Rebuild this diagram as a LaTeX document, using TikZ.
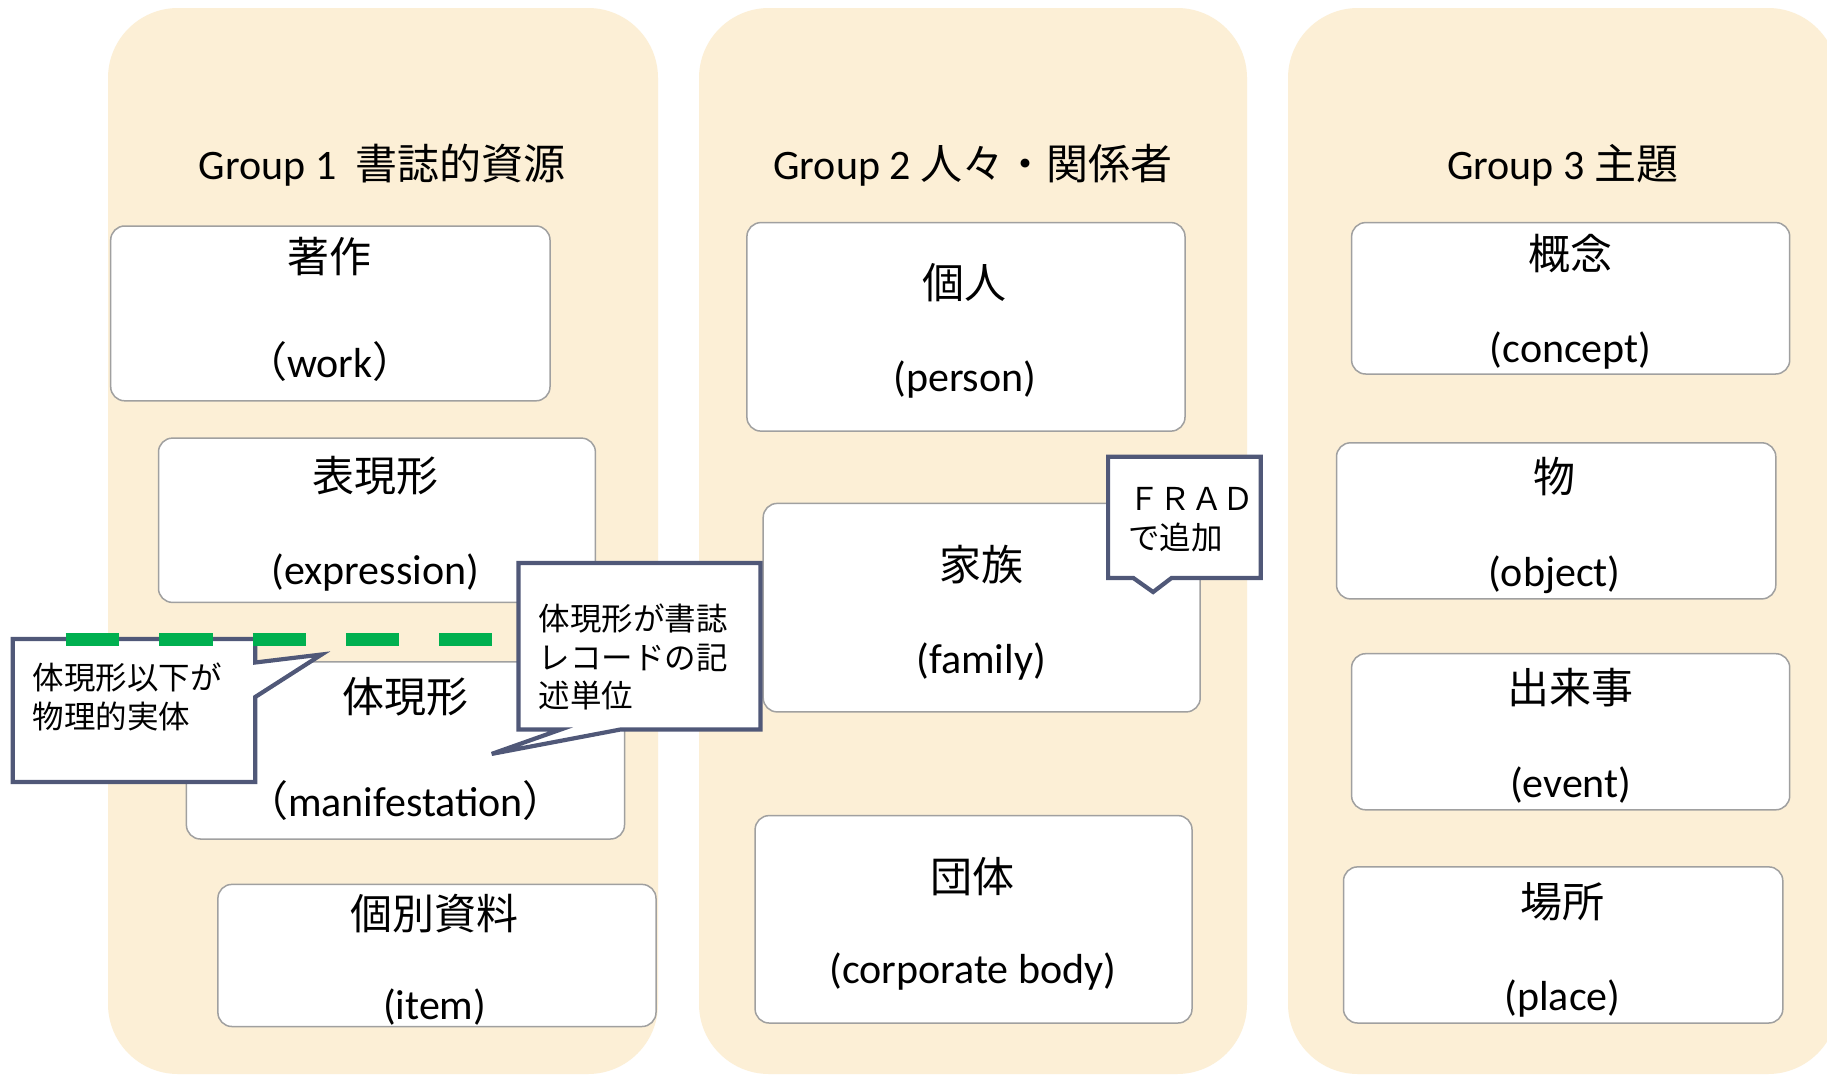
\documentclass[tikz,border=0pt]{standalone}
\usepackage{fontspec}
\setmainfont{Carlito}
\newfontfamily\cjkfont{Noto Sans CJK JP}
\definecolor{panelfill}{RGB}{252,239,214}
\definecolor{boxline}{RGB}{160,160,160}
\definecolor{callline}{RGB}{80,88,120}
\definecolor{dashgreen}{RGB}{0,176,80}
\begin{document}
\begin{tikzpicture}[x=1pt,y=-1pt,
  panelbox/.style={fill=panelfill, draw=none, rounded corners=70pt},
  entity/.style={draw=boxline, fill=white, line width=1.5pt, rounded corners=14pt, inner sep=0pt, rectangle},
  jalabel/.style={font=\cjkfont\fontsize{42}{50}\selectfont, inner sep=0pt, anchor=base},
  enlabel/.style={font=\fontsize{42}{50}\selectfont, inner sep=0pt, anchor=base},
  titlelabel/.style={font=\fontsize{42}{50}\selectfont, inner sep=0pt, anchor=base},
  callout/.style={draw=callline, fill=white, line width=4.2pt, line join=miter},
  calltext/.style={font=\cjkfont\fontsize{31.5}{38}\selectfont, inner sep=0pt, anchor=base west},
  greendash/.style={draw=dashgreen, line width=13pt, dash pattern=on 53.4pt off 40pt}
]
\useasboundingbox (0,0) rectangle (1827,1076);
\clip (0,0) rectangle (1827,1076);
\fill[white] (0,0) rectangle (1827,1076);

% panels
\path[panelbox] (108,8) rectangle (658,1074);
\path[panelbox] (699,8) rectangle (1247,1074);
\path[panelbox] (1288,8) rectangle (1838,1074);

% titles
\node[titlelabel] (g1) at (382.2,179.5) {Group 1\ \ {\cjkfont 書誌的資源}};
\node[titlelabel] (g2) at (972.9,179.5) {Group 2 {\cjkfont 人々・関係者}};
\node[titlelabel] (g3) at (1562.5,179.5) {Group 3 {\cjkfont 主題}};

% group 1 boxes
\node[entity, minimum width=439.3pt, minimum height=174.8pt] (work) at (330.35,313.4) {};
\node[jalabel] (work-ja) at (329.8,272.7) {著作};
\node[enlabel] (work-en) at (329.8,377.5) {{\cjkfont （}work{\cjkfont ）}};

\node[entity, minimum width=436.9pt, minimum height=164.3pt] (expr) at (376.95,520.25) {};
\node[jalabel] (expr-ja) at (375.2,491.7) {表現形};
\node[enlabel] (expr-en) at (375.2,584.9) {(expression)};

\node[entity, minimum width=438.1pt, minimum height=177.2pt] (mani) at (405.45,750.4) {};
\node[jalabel] (mani-ja) at (405.5,712) {体現形};
\node[enlabel] (mani-en) at (405.5,816.8) {{\cjkfont （}manifestation{\cjkfont ）}};

\node[entity, minimum width=438.1pt, minimum height=142.1pt] (item) at (436.95,955.45) {};
\node[jalabel] (item-ja) at (434.6,929.8) {個別資料};
\node[enlabel] (item-en) at (434.6,1019.5) {(item)};

% group 2 boxes
\node[entity, minimum width=438.1pt, minimum height=208.5pt] (person) at (965.95,326.85) {};
\node[jalabel] (person-ja) at (964.8,298.3) {個人};
\node[enlabel] (person-en) at (964.8,391.5) {(person)};

\node[entity, minimum width=437pt, minimum height=208.5pt] (family) at (981.7,607.65) {};
\node[jalabel] (family-ja) at (981.1,580.3) {家族};
\node[enlabel] (family-en) at (981.1,673.5) {(family)};

\node[entity, minimum width=436.9pt, minimum height=207.4pt] (corp) at (973.55,919.3) {};
\node[jalabel] (corp-ja) at (972.9,892.5) {団体};
\node[enlabel] (corp-en) at (972.9,983.5) {(corporate body)};

% group 3 boxes
\node[entity, minimum width=438.1pt, minimum height=151.4pt] (concept) at (1570.65,298.3) {};
\node[jalabel] (concept-ja) at (1570.7,269.2) {概念};
\node[enlabel] (concept-en) at (1570.7,362.4) {(concept)};

\node[entity, minimum width=439.3pt, minimum height=156.1pt] (object) at (1556.15,520.85) {};
\node[jalabel] (object-ja) at (1554.4,492.9) {物};
\node[enlabel] (object-en) at (1554.4,586.1) {(object)};

\node[entity, minimum width=438.1pt, minimum height=156.1pt] (event) at (1570.65,731.75) {};
\node[jalabel] (event-ja) at (1570.7,703.8) {出来事};
\node[enlabel] (event-en) at (1570.7,797) {(event)};

\node[entity, minimum width=439.3pt, minimum height=156.1pt] (place) at (1563.15,944.95) {};
\node[jalabel] (place-ja) at (1562.5,917) {場所};
\node[enlabel] (place-en) at (1562.5,1010.2) {(place)};

% callouts
\path[callout] (12.8,639) -- (255.2,639) -- (255.2,662.5) -- (321.6,654.5)
  -- (255.2,697) -- (255.2,781.9) -- (12.8,781.9) -- cycle;
\node[calltext] (ca1) at (32.6,689.8) {体現形以下が};
\node[calltext] (ca2) at (32.6,728.3) {物理的実体};

\path[callout] (518.5,563) -- (760.5,563) -- (760.5,729.4) -- (621,729.4)
  -- (491.7,753.9) -- (561,729.4) -- (518.5,729.4) -- cycle;
\node[calltext] (cb1) at (538.3,630.7) {体現形が書誌};
\node[calltext] (cb2) at (538.3,669.2) {レコードの記};
\node[calltext] (cb3) at (538.3,707.6) {述単位};

\path[callout] (1108.1,456.8) -- (1260.7,456.8) -- (1260.7,577.9) -- (1171.6,577.9)
  -- (1153.1,592) -- (1133.2,577.9) -- (1108.1,577.9) -- cycle;
\node[calltext] (cc1) at (1128,510.7) {ＦＲＡＤ};
\node[calltext] (cc2) at (1128,549.2) {で追加};

% green dashed boundary
\coordinate (dashstart) at (65.7,639);
\coordinate (dashend) at (492.3,639);
\draw[greendash] (dashstart) -- (dashend);
\end{tikzpicture}
\end{document}
